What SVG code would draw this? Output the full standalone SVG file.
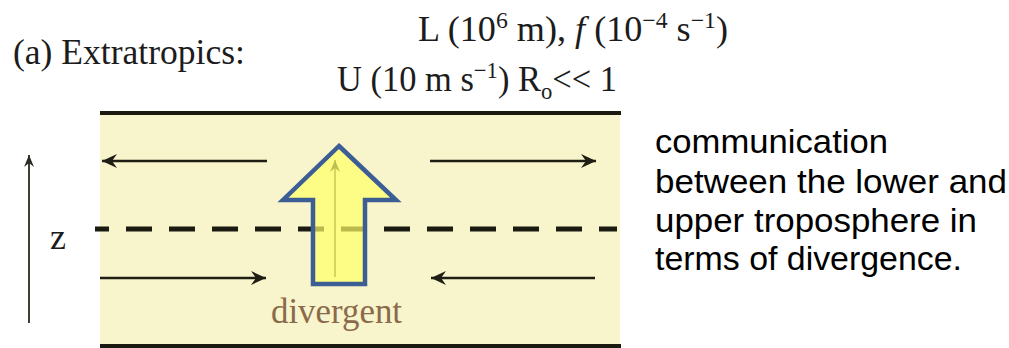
<svg xmlns="http://www.w3.org/2000/svg" width="1009" height="348" viewBox="0 0 1009 348">
<style>
.serif{font-family:"Liberation Serif","Times New Roman",serif;fill:#1c1c1c}
.side{font-family:"Liberation Sans",Arial,sans-serif;font-size:33px;fill:#000}
.flow{stroke:#1e1e14;stroke-width:2.4;fill:none}
</style>
<defs>
<marker id="ah" viewBox="-16 -8 17 16" markerWidth="17" markerHeight="16" refX="0" refY="0" orient="auto" markerUnits="userSpaceOnUse">
<path d="M0,0 L-15,-7 L-10,0 L-15,7 Z" fill="#1e1e14"/>
</marker>
<marker id="ahs" viewBox="-13 -6 14 12" markerWidth="14" markerHeight="12" refX="0" refY="0" orient="auto" markerUnits="userSpaceOnUse">
<path d="M0,0 L-12,-5 L-8,0 L-12,5 Z" fill="#2a2a20"/>
</marker>
</defs>
<rect width="1009" height="348" fill="#ffffff"/>
<g id="layer">
<rect x="100" y="113" width="520" height="233" fill="#f8f4cb"/>
<line x1="100" y1="113" x2="621" y2="113" stroke="#1a1a10" stroke-width="4"/>
<line x1="100" y1="346" x2="621" y2="346" stroke="#1a1a10" stroke-width="4"/>
<line x1="95" y1="229" x2="617" y2="229" stroke="#1a1a10" stroke-width="5" stroke-dasharray="26 17" stroke-dashoffset="12"/>
</g>
<g id="connectors">
<line class="flow" x1="267" y1="161" x2="102" y2="161" marker-end="url(#ah)"/>
<line class="flow" x1="430" y1="161" x2="596" y2="161" marker-end="url(#ah)"/>
<line class="flow" x1="100" y1="278" x2="266" y2="278" marker-end="url(#ah)"/>
<line class="flow" x1="595" y1="278" x2="431" y2="278" marker-end="url(#ah)"/>
<line x1="29" y1="323" x2="29" y2="155" stroke="#2a2a20" stroke-width="1.8" marker-end="url(#ahs)"/>
<line x1="335" y1="277" x2="335" y2="160" stroke="#3a3a20" stroke-width="1.4" marker-end="url(#ahs)"/>
</g>
<g id="bigarrow">
<polygon points="339,146 396,200 365,200 365,284 313,284 313,200 283,200" fill="#ffff66" fill-opacity="0.7" stroke="#3c5e95" stroke-width="4.5" stroke-linejoin="miter"/>
</g>
<g id="labels">
<text class="serif" x="13" y="64" font-size="35" textLength="232" lengthAdjust="spacingAndGlyphs">(a) Extratropics:</text>
<text class="serif" x="418" y="41" font-size="35" textLength="310" lengthAdjust="spacingAndGlyphs">L (10<tspan font-size="23" dy="-13">6</tspan><tspan dy="13"> m), </tspan><tspan font-style="italic">f</tspan> (10<tspan font-size="23" dy="-13">−4</tspan><tspan dy="13"> s</tspan><tspan font-size="23" dy="-13">−1</tspan><tspan dy="13">)</tspan></text>
<text class="serif" x="337" y="91" font-size="35" textLength="280" lengthAdjust="spacingAndGlyphs">U (10 m s<tspan font-size="23" dy="-13">−1</tspan><tspan dy="13">) R</tspan><tspan font-size="23" dy="8">o</tspan><tspan dy="-8">&lt;&lt; 1</tspan></text>
<text class="serif" x="50" y="249" font-size="36">z</text>
<text class="serif" x="271" y="323" font-size="36" style="fill:#8a6a4a" textLength="131" lengthAdjust="spacingAndGlyphs">divergent</text>
</g>
<g id="note">
<text class="side" x="655" y="153" textLength="233" lengthAdjust="spacingAndGlyphs">communication</text>
<text class="side" x="655" y="193" textLength="352" lengthAdjust="spacingAndGlyphs">between the lower and</text>
<text class="side" x="655" y="232" textLength="322" lengthAdjust="spacingAndGlyphs">upper troposphere in</text>
<text class="side" x="655" y="270" textLength="307" lengthAdjust="spacingAndGlyphs">terms of divergence.</text>
</g>
</svg>
